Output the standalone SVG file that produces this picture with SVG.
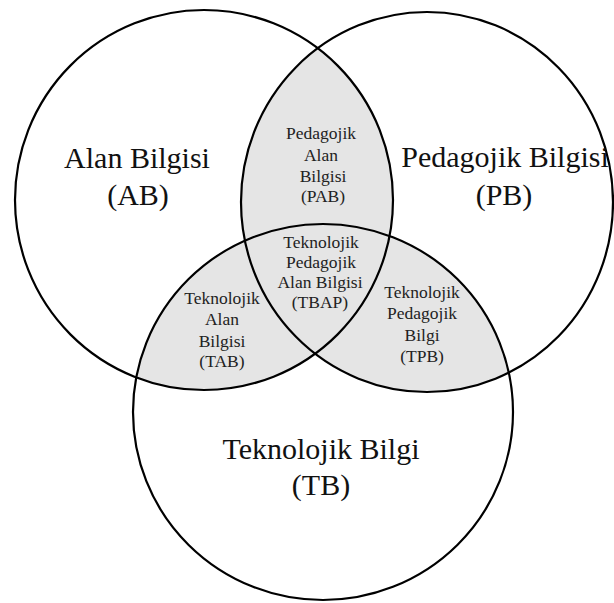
<svg xmlns="http://www.w3.org/2000/svg" width="614" height="603" viewBox="0 0 614 603">
<style>
.ring{fill:none;stroke:#000;stroke-width:2.2}
.lens{fill:#e5e5e5}
.big{font-family:"Liberation Serif","Times New Roman",serif;font-size:30px;fill:#111;text-anchor:middle}
.small{font-family:"Liberation Serif","Times New Roman",serif;font-size:17.5px;fill:#222;text-anchor:middle}
</style>
<defs>
<clipPath id="cA"><ellipse cx="204" cy="200" rx="189" ry="190"/></clipPath>
<clipPath id="cB"><ellipse cx="427" cy="202" rx="186" ry="190"/></clipPath>
</defs>
<g id="overlaps">
<ellipse class="lens" cx="427" cy="202" rx="186" ry="190" clip-path="url(#cA)"/>
<ellipse class="lens" cx="323" cy="412" rx="190" ry="188" clip-path="url(#cA)"/>
<ellipse class="lens" cx="323" cy="412" rx="190" ry="188" clip-path="url(#cB)"/>
</g>
<g id="AB">
<ellipse class="ring" cx="204" cy="200" rx="189" ry="190"/>
<text class="big" x="137" y="168">Alan Bilgisi</text>
<text class="big" x="138" y="205">(AB)</text>
</g>
<g id="PB">
<ellipse class="ring" cx="427" cy="202" rx="186" ry="190"/>
<text class="big" x="505" y="167">Pedagojik Bilgisi</text>
<text class="big" x="504" y="205">(PB)</text>
</g>
<g id="TB">
<ellipse class="ring" cx="323" cy="412" rx="190" ry="188"/>
<text class="big" x="321" y="459">Teknolojik Bilgi</text>
<text class="big" x="321" y="495">(TB)</text>
</g>
<g id="PAB">
<text class="small" x="321" y="139">Pedagojik</text>
<text class="small" x="321" y="161">Alan</text>
<text class="small" x="323" y="182">Bilgisi</text>
<text class="small" x="323" y="202">(PAB)</text>
</g>
<g id="TBAP">
<text class="small" x="321" y="248">Teknolojik</text>
<text class="small" x="321" y="268">Pedagojik</text>
<text class="small" x="320" y="288">Alan Bilgisi</text>
<text class="small" x="320" y="308">(TBAP)</text>
</g>
<g id="TAB">
<text class="small" x="222" y="304">Teknolojik</text>
<text class="small" x="222" y="325">Alan</text>
<text class="small" x="222" y="347">Bilgisi</text>
<text class="small" x="222" y="367">(TAB)</text>
</g>
<g id="TPB">
<text class="small" x="422" y="298">Teknolojik</text>
<text class="small" x="422" y="319">Pedagojik</text>
<text class="small" x="422" y="341">Bilgi</text>
<text class="small" x="422" y="362">(TPB)</text>
</g>
</svg>
